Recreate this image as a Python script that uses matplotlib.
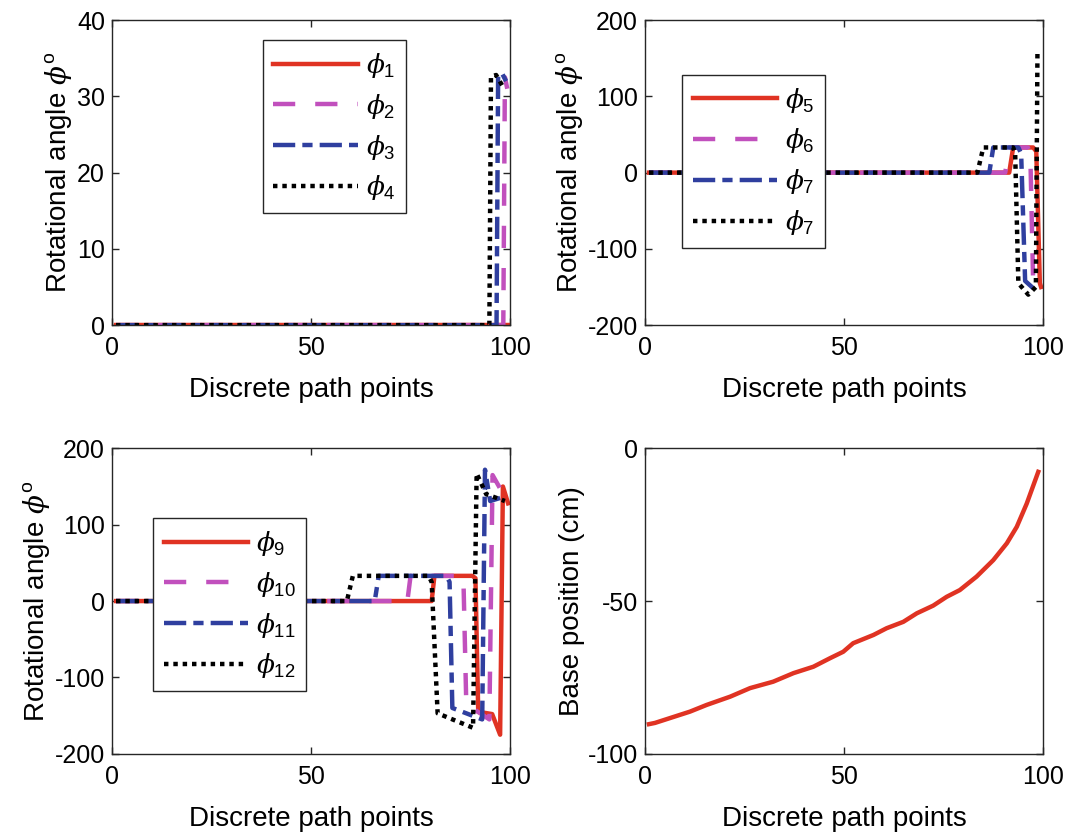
import matplotlib
matplotlib.use("Agg")
import matplotlib.pyplot as plt

plt.rcParams['font.family'] = ['Liberation Sans', 'DejaVu Sans']
plt.rcParams['mathtext.fontset'] = 'custom'
plt.rcParams['mathtext.rm'] = 'Liberation Sans'
plt.rcParams['mathtext.it'] = 'DejaVu Serif:italic'
plt.rcParams['axes.unicode_minus'] = False

# top left: phi1..phi4
p1_x = [1, 100]
p1_y = [0, 0]
p2_x = [1, 98.3, 98.7, 99.3]
p2_y = [0, 0, 32.5, 31]
p3_x = [1, 96.6, 97.0, 98.0, 99.0]
p3_y = [0, 0, 32.8, 33, 32]
p4_x = [1, 94.8, 95.2, 96.5, 98.5]
p4_y = [0, 0, 32.6, 32.8, 31]

# top right: phi5..phi7 (legend in source says phi7 twice)
p5_x = [1, 91.5, 92.5, 97.5, 98.3, 99.2, 99.5]
p5_y = [0, 0, 33, 33, 28, -145, -150]
p6_x = [1, 90.5, 91.5, 96.2, 96.8, 97.5, 98.5]
p6_y = [0, 0, 33, 33, 25, -140, -152]
p7_x = [1, 86.5, 87.5, 93.8, 94.5, 95.5, 97.2, 98.3]
p7_y = [0, 0, 33, 33, 25, -142, -150, -155]
p8_x = [1, 83.5, 85, 92.5, 93.0, 93.8, 96.3, 98.2, 98.6]
p8_y = [0, 0, 33, 33, 25, -145, -160, -150, 160]

# bottom left: phi9..phi12
p9_x = [1, 80.3, 81.0, 90.5, 91.3, 92.0, 95.5, 97.5, 98.2, 99.5]
p9_y = [0, 0, 33, 33, 30, -145, -148, -175, 150, 128]
p10_x = [1, 74.2, 75.0, 87.5, 88.3, 89.0, 94.8, 95.6, 98.3]
p10_y = [0, 0, 33, 33, 25, -135, -155, 165, 140]
p11_x = [1, 66.0, 67.0, 84.0, 84.8, 85.5, 93.0, 93.7, 95.0, 97.5]
p11_y = [0, 0, 33, 33, 25, -140, -155, 172, 131, 135]
p12_x = [1, 59.0, 60.5, 79.5, 80.3, 81.8, 90.7, 91.6, 94.0, 98.7]
p12_y = [0, 0, 33, 33, 25, -147, -166, 167, 140, 131]

# bottom right: base position
base_x = [1, 2.5, 11.3, 15.5, 21.4, 26.4, 32.2, 37.3, 42.3, 46.5, 49.8, 52.3,
          57.4, 60.7, 64.9, 68.3, 72.4, 75.8, 79.1, 83.3, 87.5, 90.9, 93.4,
          95.9, 98.8]
base_y = [-90.3, -89.9, -86.2, -84.0, -81.3, -78.5, -76.4, -73.6, -71.5, -68.7,
          -66.6, -63.8, -61.1, -58.9, -56.8, -54.0, -51.5, -48.6, -46.4, -42.0,
          -36.6, -31.1, -25.7, -18.1, -7.7]

red = "#e03323"
mag = "#c150bd"
blue = "#2f3f9f"
blk = "#000000"
lw = 3.2
styles = [
    dict(color=red, linestyle="-"),
    dict(color=mag, dashes=(5, 4.5)),
    dict(color=blue, dashes=(5, 1.6, 2.3, 1.6)),
    dict(color=blk, dashes=(1, 1.1)),
]

fig = plt.figure(figsize=(10.7, 8.38), dpi=100)
axes = [
    fig.add_axes([0.1047, 0.612, 0.372, 0.364]),
    fig.add_axes([0.6028, 0.612, 0.372, 0.364]),
    fig.add_axes([0.1047, 0.1005, 0.372, 0.3645]),
    fig.add_axes([0.6028, 0.1005, 0.372, 0.3645]),
]

def style_axis(ax, ylim, yticks):
    ax.set_xlim(0, 100)
    ax.set_ylim(*ylim)
    ax.set_xticks([0, 50, 100])
    ax.set_yticks(yticks)
    ax.tick_params(direction="in", length=5, width=1, labelsize=18,
                   top=True, right=True, colors="#262626", labelcolor="black")
    ax.tick_params(axis="x", pad=8)
    ax.tick_params(axis="y", pad=5)
    for s in ax.spines.values():
        s.set_linewidth(1)
        s.set_color("#262626")
    ax.set_xlabel("Discrete path points", fontsize=20, labelpad=12)

groups = [
    (axes[0], [(p1_x, p1_y), (p2_x, p2_y), (p3_x, p3_y), (p4_x, p4_y)],
     ["1", "2", "3", "4"], (0, 40), [0, 10, 20, 30, 40], (0.379, 0.934)),
    (axes[1], [(p5_x, p5_y), (p6_x, p6_y), (p7_x, p7_y), (p8_x, p8_y)],
     ["5", "6", "7", "7"], (-200, 200), [-200, -100, 0, 100, 200], (0.093, 0.82)),
    (axes[2], [(p9_x, p9_y), (p10_x, p10_y), (p11_x, p11_y), (p12_x, p12_y)],
     ["9", "10", "11", "12"], (-200, 200), [-200, -100, 0, 100, 200], (0.103, 0.771)),
]

for ax, series, labs, ylim, yt, loc in groups:
    for (xs, ys), st, lab in zip(series, styles, labs):
        ax.plot(xs, ys, lw=lw, label=r"$\phi_{%s}$" % lab, **st)
    style_axis(ax, ylim, yt)
    ax.set_ylabel(r"Rotational angle $\phi^{\rm o}$", fontsize=20, labelpad=2)
    leg = ax.legend(loc="upper left", bbox_to_anchor=loc, fontsize=19,
                    handlelength=3.2, handletextpad=0.3, labelspacing=0.45,
                    borderpad=0.4, borderaxespad=0, fancybox=False,
                    framealpha=1)
    leg.get_frame().set_edgecolor("#262626")
    leg.get_frame().set_linewidth(1)

ax = axes[3]
ax.plot(base_x, base_y, color=red, lw=lw)
style_axis(ax, (-100, 0), [-100, -50, 0])
ax.set_ylabel("Base position (cm)", fontsize=20, labelpad=2)

fig.savefig("out.png", dpi=100)
